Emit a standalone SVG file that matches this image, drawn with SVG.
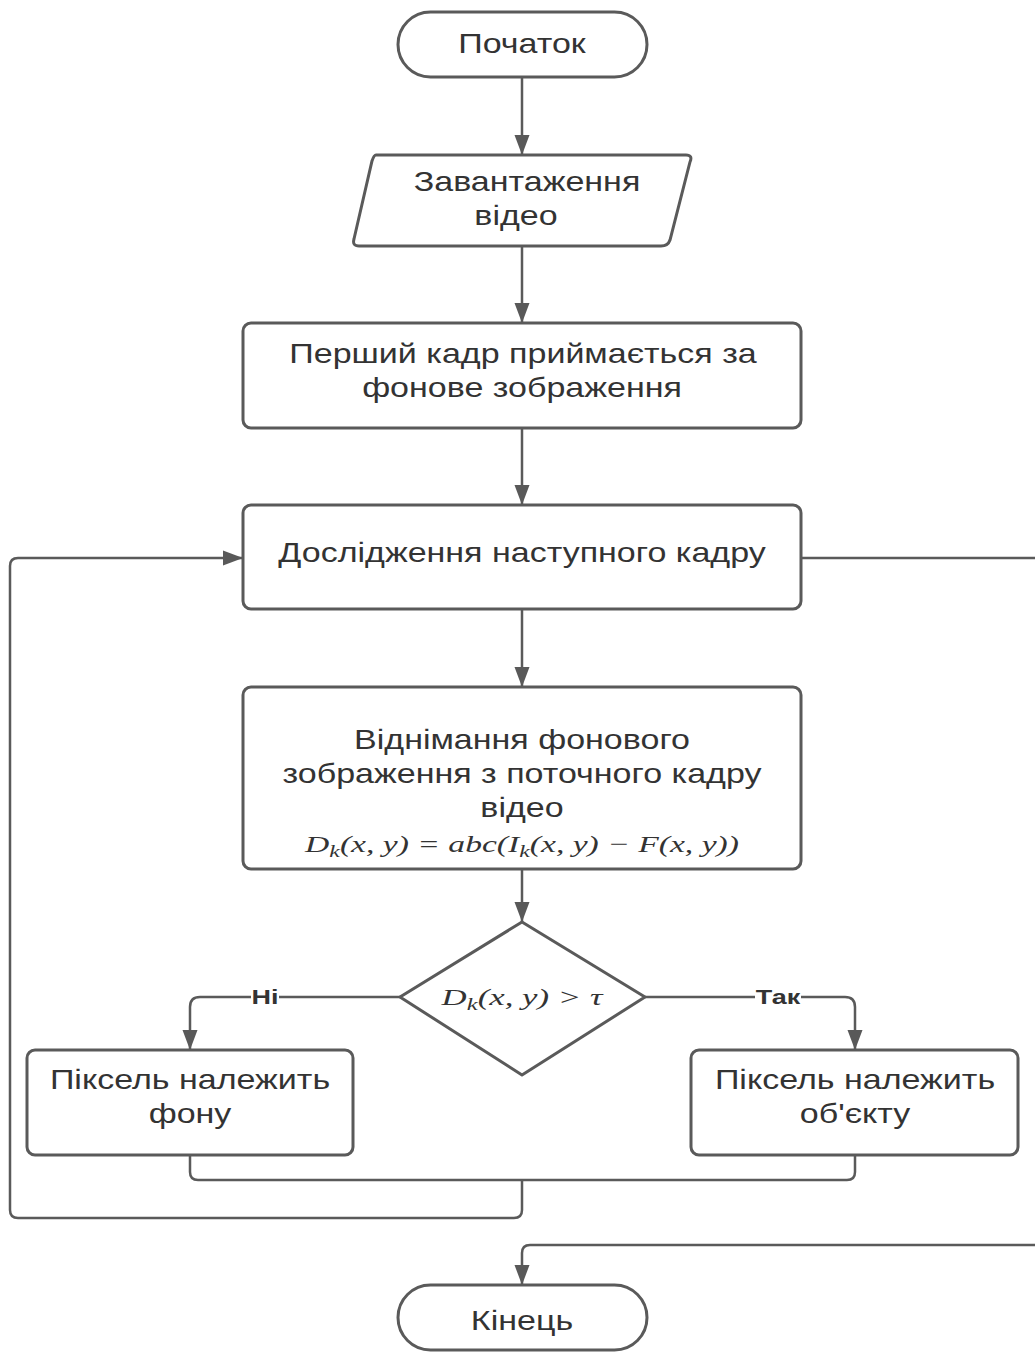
<svg xmlns="http://www.w3.org/2000/svg" width="1035" height="1356" viewBox="0 0 1035 1356">
<defs>
<marker id="ah2" viewBox="0 0 20 20" refX="20" refY="10" markerWidth="20" markerHeight="20" orient="auto" markerUnits="userSpaceOnUse">
<path d="M0,2.5 L20,10 L0,17.5 z" fill="#595959"/>
</marker>
</defs>
<style>
.sh{fill:#fff;stroke:#5a5a5a;stroke-width:3}
.t{font-family:"Liberation Sans",Arial,sans-serif;font-size:27px;fill:#333;text-anchor:middle}
.m{font-family:"Liberation Serif","Times New Roman",serif;font-style:italic;font-size:24px;fill:#333;text-anchor:middle}
.c{fill:none;stroke:#5a5a5a;stroke-width:2.5;marker-end:url(#ah2)}
.cn{fill:none;stroke:#5a5a5a;stroke-width:2.5}
.lb{font-family:"Liberation Sans",Arial,sans-serif;font-size:20px;font-weight:bold;fill:#333;text-anchor:middle}
</style>
<rect width="1035" height="1356" fill="#fff"/>
<g id="connectors">
<path class="c" d="M522,78 V155"/>
<path class="c" d="M522,247 V323"/>
<path class="c" d="M522,429 V505"/>
<path class="c" d="M522,610 V687"/>
<path class="c" d="M522,870 V922"/>
<path class="c" d="M400,997 H200 Q190,997 190,1007 V1050"/>
<path class="c" d="M645,997 H845 Q855,997 855,1007 V1050"/>
<path class="cn" d="M190,1156 V1172 Q190,1180 198,1180 H847 Q855,1180 855,1172 V1156"/>
<path class="c" d="M522,1180 V1210 Q522,1218 514,1218 H18 Q10,1218 10,1210 V566 Q10,558 18,558 H243"/>
<path class="cn" d="M802,558 H1035"/>
<path class="c" d="M1035,1245 H530 Q522,1245 522,1253 V1285"/>
<rect x="251" y="986" width="28" height="22" fill="#fff"/>
<text class="lb" transform="translate(265 1004) scale(1.35 1)">Ні</text>
<rect x="755" y="986" width="46" height="22" fill="#fff"/>
<text class="lb" transform="translate(778 1004) scale(1.35 1)">Так</text>
</g>
<g id="start">
<rect class="sh" x="398" y="12" width="249" height="65" rx="32.5"/>
<text class="t" transform="translate(522 53) scale(1.26 1)">Початок</text>
</g>
<g id="load">
<path class="sh" d="M376,155 H686 Q693,155 690,162 L670,240 Q668,246 661,246 H359 Q352,246 354,239 L372,161 Q374,155 376,155 z"/>
<text class="t" transform="translate(527 191) scale(1.26 1)">Завантаження</text>
<text class="t" transform="translate(516 225) scale(1.26 1)">відео</text>
</g>
<g id="first">
<rect class="sh" x="243" y="323" width="558" height="105" rx="8"/>
<text class="t" transform="translate(523 363) scale(1.26 1)">Перший кадр приймається за</text>
<text class="t" transform="translate(522 397) scale(1.26 1)">фонове зображення</text>
</g>
<g id="next">
<rect class="sh" x="243" y="505" width="558" height="104" rx="8"/>
<text class="t" transform="translate(522 562) scale(1.26 1)">Дослідження наступного кадру</text>
</g>
<g id="subtract">
<rect class="sh" x="243" y="687" width="558" height="182" rx="8"/>
<text class="t" transform="translate(522 749) scale(1.26 1)">Віднімання фонового</text>
<text class="t" transform="translate(522 783) scale(1.26 1)">зображення з поточного кадру</text>
<text class="t" transform="translate(522 817) scale(1.26 1)">відео</text>
<text class="m" transform="translate(522 852) scale(1.4 1)">D<tspan font-size="17" dy="5">k</tspan><tspan dy="-5">(x, y) = abc(I</tspan><tspan font-size="17" dy="5">k</tspan><tspan dy="-5">(x, y) − F(x, y))</tspan></text>
</g>
<g id="decision">
<path class="sh" d="M522,922 L645,997 L522,1075 L400,997 z" stroke-linejoin="round"/>
<text class="m" transform="translate(522 1005) scale(1.45 1)">D<tspan font-size="17" dy="5">k</tspan><tspan dy="-5">(x, y) &gt; τ</tspan></text>
</g>
<g id="bg">
<rect class="sh" x="27" y="1050" width="326" height="105" rx="8"/>
<text class="t" transform="translate(190 1089) scale(1.26 1)">Піксель належить</text>
<text class="t" transform="translate(190 1123) scale(1.26 1)">фону</text>
</g>
<g id="obj">
<rect class="sh" x="691" y="1050" width="327" height="105" rx="8"/>
<text class="t" transform="translate(855 1089) scale(1.26 1)">Піксель належить</text>
<text class="t" transform="translate(855 1123) scale(1.26 1)">об'єкту</text>
</g>
<g id="end">
<rect class="sh" x="398" y="1285" width="249" height="65" rx="32.5"/>
<text class="t" transform="translate(522 1330) scale(1.26 1)">Кінець</text>
</g>
</svg>
